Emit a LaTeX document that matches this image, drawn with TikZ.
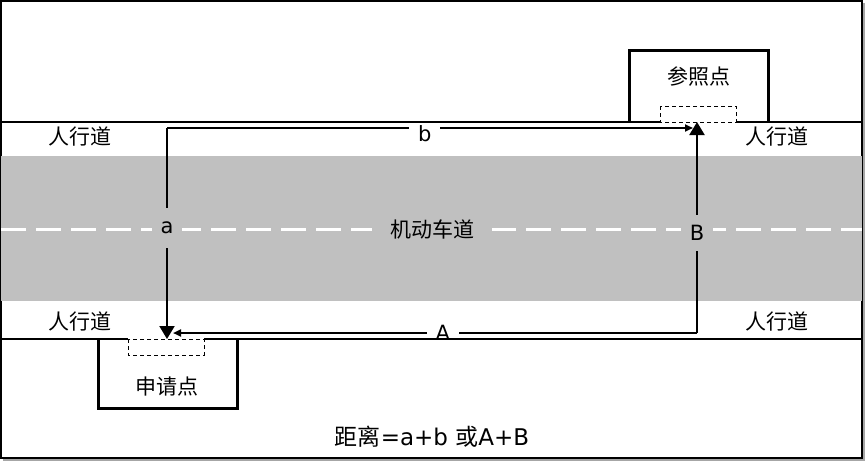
\documentclass[tikz,border=0pt]{standalone}
\usepackage{fontspec}
\setmainfont{DejaVu Sans}
\newfontfamily\cjk{Noto Sans CJK SC}
\usetikzlibrary{arrows.meta}
\definecolor{roadgray}{RGB}{192,192,192}

\begin{document}
\begin{tikzpicture}[x=0.5pt, y=-0.5pt,
    every node/.style={font=\fontsize{10.5}{12}\selectfont},
    walkline/.style={line width=1pt},
    housebox/.style={line width=1.5pt},
    doorbox/.style={line width=0.5pt, dash pattern=on 2pt off 1.5pt},
    route/.style={line width=1pt},
    bigtip/.style={-{Triangle[width=7.5pt,length=6.5pt]}},
    smalltip/.style={-{Triangle[width=3.5pt,length=4pt]}},
    tagw/.style={fill=white, inner xsep=4.5pt, inner ysep=1pt},
    tagg/.style={fill=roadgray, inner xsep=4.5pt, inner ysep=7pt}]
  \useasboundingbox (0,0) rectangle (865,460);

  % frame with shadow
  \draw[gray!70, line width=1.5pt] (864,3) -- (864,459) -- (3,459);
  \draw[line width=0.8pt] (1,1) rectangle (862,458);

  % road
  \fill[roadgray] (1,156) rectangle (862,301);
  \draw[white, line width=1.5pt, dash pattern=on 12.5pt off 5pt]
    (1,229) -- (862,229);
  \node[fill=roadgray, inner xsep=9pt] (road) at (432,229) {\cjk 机动车道};

  % sidewalk labels
  \node (walkTL) at (80,137) {\cjk 人行道};
  \node (walkTR) at (777,137) {\cjk 人行道};
  \node (walkBL) at (80,322) {\cjk 人行道};
  \node (walkBR) at (777,322) {\cjk 人行道};

  % route points
  \coordinate (refpt) at (697,122);
  \coordinate (refside) at (693,128);
  \coordinate (reqpt) at (167,339);
  \coordinate (reqside) at (173,333);
  \coordinate (cornerab) at (167,128);
  \coordinate (cornerAB) at (697,333);

  % a + b
  \draw[route, smalltip] (cornerab) -- node[tagw, pos=0.49, yshift=-3pt] {b} (refside);
  \draw[route, bigtip] (cornerab) -- node[tagg, pos=0.474] {a} (reqpt);

  % A + B
  \draw[route, smalltip] (cornerAB) -- node[tagw, pos=0.485] {A} (reqside);
  \draw[route, bigtip] (cornerAB) -- node[tagg, pos=0.474, inner ysep=5pt] {B} (refpt);

  % sidewalk edges
  \draw[walkline] (1,122) -- (660,122) (736,122) -- (862,122);
  \draw[walkline] (1,339) -- (128,339) (204,339) -- (862,339);

  % reference point
  \draw[housebox] (629,122) |- (768,51) -- (768,122);
  \draw[doorbox] (660,106) rectangle (736,122);
  \node (ref) at (699,77) {\cjk 参照点};

  % request point
  \draw[housebox] (98,339) |- (237,408) -- (237,339);
  \draw[doorbox] (128,339) rectangle (204,355);
  \node (req) at (167,387) {\cjk 申请点};

  % sum
  \node[font=\fontsize{11.5}{13}\selectfont] (sum) at (432,437)
    {{\cjk 距离}=a+b {\cjk 或}A+B};
\end{tikzpicture}
\end{document}
